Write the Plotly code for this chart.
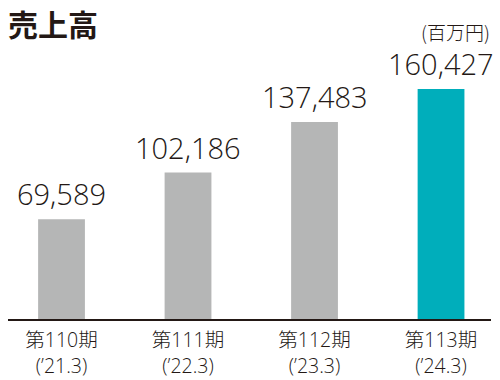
import plotly.graph_objects as go

categories = ["第110期", "第111期", "第112期", "第113期"]
periods = ["(’21.3)", "(’22.3)", "(’23.3)", "(’24.3)"]
sales = [69589, 102186, 137483, 160427]
colors = ["#b5b6b6", "#b5b6b6", "#b5b6b6", "#00aebb"]

tick_text = [f"{c}<br>{p}" for c, p in zip(categories, periods)]
DARK = "#231815"
NUM_FONT = "Open Sans, Noto Sans CJK JP, sans-serif"
CJK_FONT = "Noto Sans CJK JP, sans-serif"

fig = go.Figure()
fig.add_trace(go.Bar(
    x=categories, y=sales, marker=dict(color=colors, line=dict(width=0)),
    width=0.37, hoverinfo="skip",
))

for c, v in zip(categories, sales):
    fig.add_annotation(
        x=c, y=v, text=f"{v:,}", showarrow=False, yanchor="bottom",
        yshift=4, font=dict(family=NUM_FONT, size=29, color=DARK, weight=300),
    )

fig.add_annotation(
    xref="paper", yref="paper", x=0, y=1, xanchor="left", yanchor="top",
    xshift=-2, yshift=90, text="<b>売上高</b>", showarrow=False,
    font=dict(family=CJK_FONT, size=30, color=DARK),
)
fig.add_annotation(
    xref="paper", yref="paper", x=1, y=1, xanchor="right", yanchor="top",
    xshift=1, yshift=73, text="(百万円)", showarrow=False,
    font=dict(family=CJK_FONT, size=19, color=DARK, weight=300),
)

fig.update_layout(
    width=500, height=380,
    margin=dict(l=8, r=9, t=89, b=61, autoexpand=False),
    paper_bgcolor="white", plot_bgcolor="white",
    showlegend=False,
    xaxis=dict(
        type="category", range=[-0.423, 3.395], automargin=False,
        tickvals=categories, ticktext=tick_text,
        showline=True, linecolor=DARK, linewidth=2,
        ticks="", showgrid=False, zeroline=False, ticklabelstandoff=3,
        tickfont=dict(family=NUM_FONT, size=19.5, color=DARK, weight=300),
    ),
    yaxis=dict(
        range=[0, 160427], visible=False, showgrid=False, zeroline=False,
        automargin=False,
    ),
)

fig.write_html("out.html", config={"displayModeBar": False},
               post_script="document.body.style.margin='0';")
